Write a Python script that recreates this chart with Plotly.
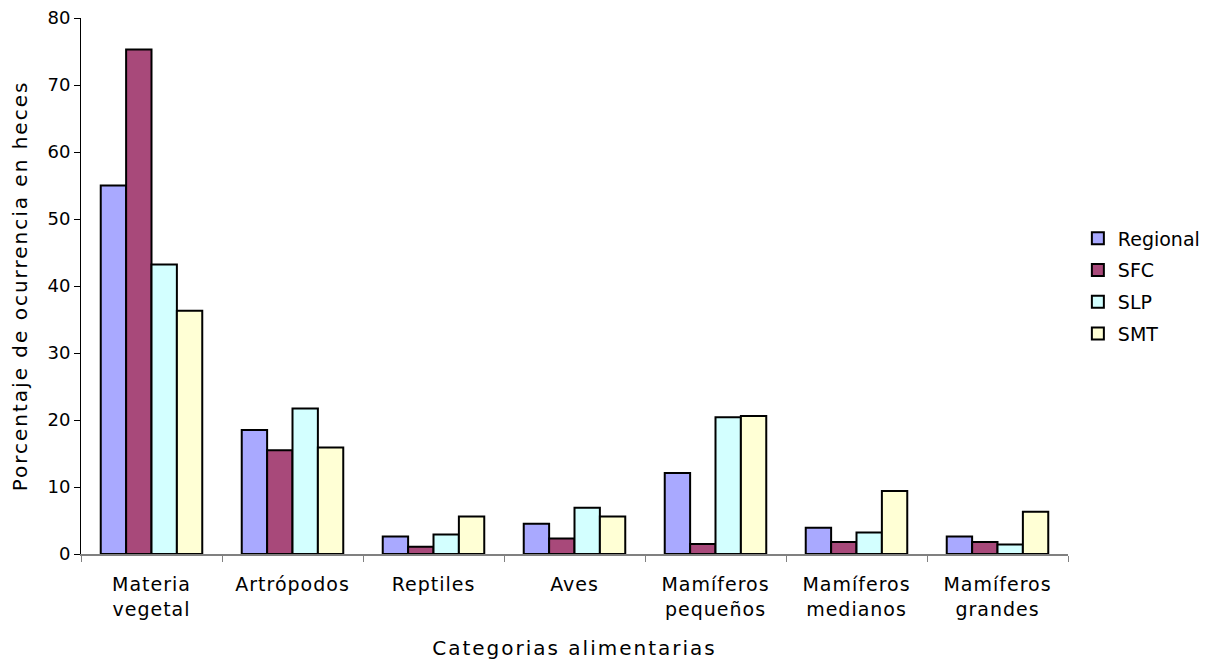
import plotly.graph_objects as go

categories = ["Materia vegetal", "Artrópodos", "Reptiles", "Aves",
              "Mamíferos pequeños", "Mamíferos medianos", "Mamíferos grandes"]
category_labels = [["Materia", "vegetal"], ["Artrópodos"], ["Reptiles"], ["Aves"],
                   ["Mamíferos", "pequeños"], ["Mamíferos", "medianos"], ["Mamíferos", "grandes"]]

regional = [55.0, 18.5, 2.6, 4.5, 12.1, 3.9, 2.6]
sfc = [75.3, 15.5, 1.1, 2.3, 1.5, 1.8, 1.8]
slp = [43.2, 21.7, 2.9, 6.9, 20.4, 3.2, 1.4]
smt = [36.3, 15.9, 5.6, 5.6, 20.6, 9.4, 6.3]

series = [
    ("Regional", regional, "#A9A9FF"),
    ("SFC", sfc, "#A8497A"),
    ("SLP", slp, "#D3FFFF"),
    ("SMT", smt, "#FFFFD5"),
]

font_family = "DejaVu Sans, Verdana, sans-serif"


def spaced(lines, px):
    """Wrap each line in a span with extra letter spacing."""
    return "<br>".join(f'<span style="letter-spacing:{px}px">{ln}</span>' for ln in lines)


fig = go.Figure()
for name, vals, color in series:
    fig.add_trace(go.Bar(
        name=name, x=categories, y=vals, legendgroup=name,
        marker=dict(color=color, line=dict(color="black", width=2)),
    ))

fig.update_layout(
    barmode="group",
    bargap=0.28,
    bargroupgap=0,
    width=1206, height=661,
    margin=dict(l=81, r=138, t=18, b=107, autoexpand=False),
    plot_bgcolor="white",
    paper_bgcolor="white",
    font=dict(family=font_family, size=18, color="black"),
    legend=dict(
        x=1.01, y=0.5, xanchor="left", yanchor="middle",
        font=dict(size=19), tracegroupgap=4, itemwidth=30,
        traceorder="grouped",
    ),
    xaxis=dict(
        title=dict(text=spaced(["Categorias alimentarias"], 2), standoff=22,
                   font=dict(size=20)),
        showline=True, linecolor="#808080", linewidth=2,
        ticks="outside", tickson="boundaries", ticklen=6, tickcolor="#808080",
        tickmode="array", tickvals=categories,
        ticktext=[spaced(lbl, 1) for lbl in category_labels],
        tickfont=dict(size=19), ticklabelstandoff=12,
        showgrid=False,
    ),
    yaxis=dict(
        title=dict(text=spaced(["Porcentaje de ocurrencia en heces"], 2), standoff=14,
                   font=dict(size=20)),
        range=[0, 80], dtick=10,
        showline=True, linecolor="black", linewidth=1,
        ticks="outside", ticklen=6, tickcolor="black",
        tickfont=dict(size=18),
        showgrid=False, zeroline=False,
    ),
)

fig.write_html("out.html")
